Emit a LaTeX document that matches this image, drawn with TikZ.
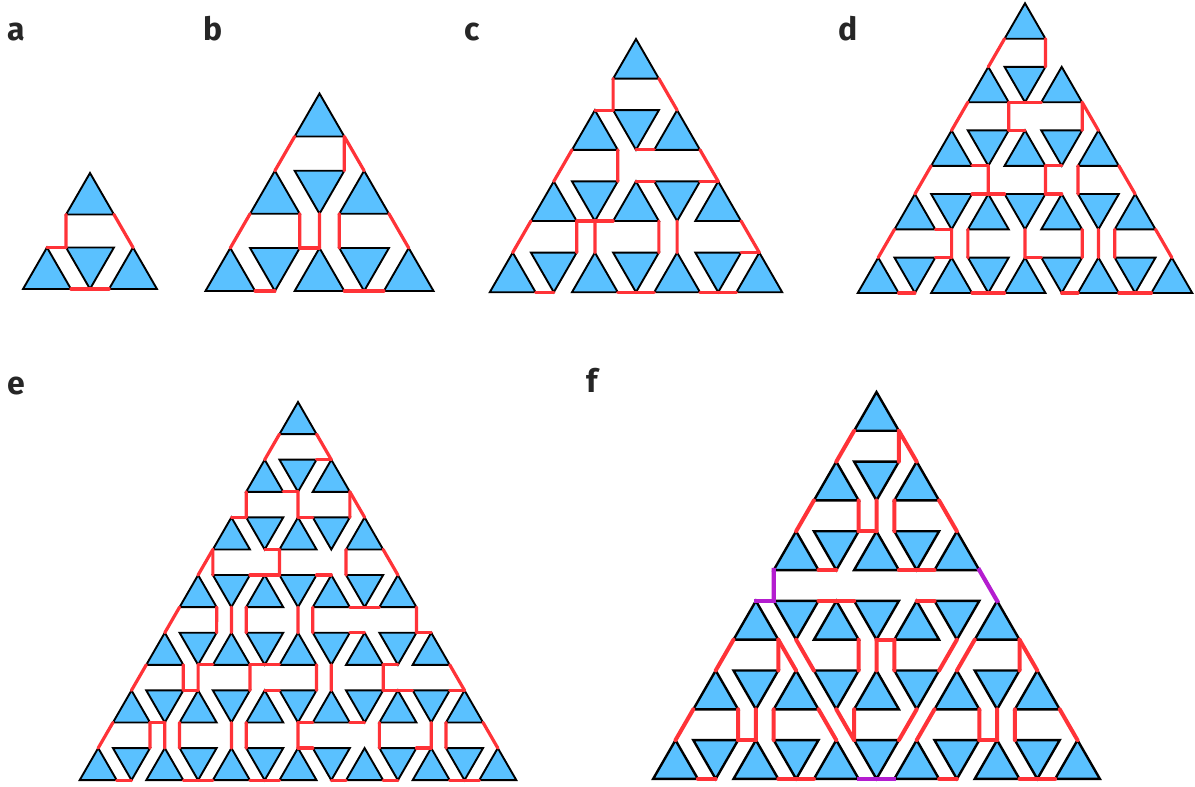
\documentclass[tikz,border=0pt]{standalone}
\usepackage{fontspec}
\setsansfont{Fira Sans}
\definecolor{triblue}{HTML}{5AC1FF}
\definecolor{linkred}{HTML}{FF3338}
\definecolor{linkpurple}{HTML}{B41DCF}
\tikzset{
  tri/.style={draw=black, fill=triblue, line width=1.9pt, line join=miter},
  link/.style={draw=linkred, line width=3.2pt, line cap=round},
  bridge/.style={draw=linkpurple, line width=4.2pt, line cap=rect},
  panellabel/.style={anchor=base west, inner sep=0pt, text=black!85, font=\sffamily\bfseries\fontsize{32}{32}\selectfont}
}
% grid of triangles: name, centre x, top y, spacing, last row
\newcommand{\trigrid}[5]{
  \foreach \row in {0,...,#5} {
    \pgfmathsetmacro{\ytop}{#3+\row*#4*1.732}
    \foreach \col in {0,...,\row} {
      \pgfmathsetmacro{\xup}{#2+(2*\col-\row)*#4}
      \pgfmathsetmacro{\xdn}{\xup+#4}
      \draw[tri] (\xup,\ytop) coordinate (#1-u\row-\col-t)
        -- ++(0.557*#4,0.965*#4) coordinate (#1-u\row-\col-r)
        -- ++(-1.114*#4,0) coordinate (#1-u\row-\col-l) -- cycle;
      \ifnum\col<\row
        \draw[tri] (\xdn,\ytop) ++(-0.557*#4,0) coordinate (#1-d\row-\col-l)
          -- ++(1.114*#4,0) coordinate (#1-d\row-\col-r)
          -- ++(-0.557*#4,0.965*#4) coordinate (#1-d\row-\col-b) -- cycle;
      \fi
    }
  }
}
\newcommand{\trilinks}[3]{
  \foreach \from/\to in {#3} \draw[#2] (#1-\from) -- (#1-\to);
}
\begin{document}
\begin{tikzpicture}[x=1pt, y=-1pt]
  \useasboundingbox (0,0) rectangle (1195,787);
  \node[panellabel] (lab-a) at (7,40) {a};
  \node[panellabel] (lab-b) at (203,40) {b};
  \node[panellabel] (lab-c) at (464,40) {c};
  \node[panellabel] (lab-d) at (838,40) {d};
  \node[panellabel] (lab-e) at (7,394) {e};
  \node[panellabel] (lab-f) at (586,392) {f};
  % a
  \trigrid{a}{90}{173}{43}{1}
  \trilinks{a}{link}{u0-0-l/d1-0-l, u1-0-t/d1-0-l, u0-0-r/u1-1-t, u1-0-r/d1-0-b, d1-0-b/u1-1-l}
  % b
  \trigrid{b}{319.5}{93.5}{44.6}{2}
  \trilinks{b}{link}{u0-0-l/u1-0-t, u0-0-r/u1-1-t, u0-0-r/d1-0-r, u1-0-l/u2-0-t, u1-0-r/d2-0-r,
    d2-0-r/u2-1-t, d1-0-b/u2-1-t, u1-1-l/d2-1-l, u1-1-r/u2-2-t, u2-0-r/d2-0-b, u2-1-r/d2-1-b,
    d2-1-b/u2-2-l}
  % c
  \trigrid{c}{636}{39}{41.1}{3}
  \trilinks{c}{link}{u0-0-l/d1-0-l, u1-0-t/d1-0-l, u0-0-r/u1-1-t, d1-0-b/u1-1-l, u1-0-l/u2-0-t,
    u1-0-r/d2-0-r, u2-1-t/d2-1-l, u1-1-r/u2-2-t, d2-1-r/u2-2-t, u2-0-l/u3-0-t, u2-0-r/d2-0-b,
    d2-0-b/u2-1-l, u2-0-r/d3-0-r, d2-0-b/u3-1-t, u2-1-r/d3-1-r, d2-1-b/u3-2-t, u2-2-r/u3-3-t,
    d3-2-r/u3-3-t, u3-0-r/d3-0-b, u3-1-r/d3-1-b, d3-1-b/u3-2-l, u3-2-r/d3-2-b, d3-2-b/u3-3-l}
  % d
  \trigrid{d}{1025}{3.3}{36.7}{4}
  \trilinks{d}{link}{u0-0-l/u1-0-t, u0-0-r/d1-0-r, u1-0-l/u2-0-t, u1-0-r/d2-0-r, u1-0-r/d1-0-b,
    d1-0-b/u1-1-l, d2-0-r/u2-1-t, u1-1-r/d2-1-r, u1-1-r/u2-2-t, u2-0-l/u3-0-t, u2-0-r/d2-0-b,
    d2-0-b/u3-1-t, d3-0-r/u3-1-t, u3-1-t/d3-1-l, u2-1-r/d2-1-b, u2-1-r/d3-1-r, d3-1-r/u3-2-t,
    u2-2-l/d3-2-l, u2-2-r/u3-3-t, u3-0-l/u4-0-t, u3-0-r/d3-0-b, d3-0-b/u4-1-t, d4-0-r/u4-1-t,
    u3-1-l/d4-1-l, d3-1-b/u4-2-t, u4-2-t/d4-2-l, u3-2-r/d4-2-r, d3-2-b/u4-3-t, u3-3-l/d4-3-l,
    u3-3-r/u4-4-t, u4-0-r/d4-0-b, u4-1-r/d4-1-b, d4-1-b/u4-2-l, d4-2-b/u4-3-l, u4-3-r/d4-3-b,
    d4-3-b/u4-4-l}
  % e
  \trigrid{e}{298}{402}{33.3}{6}
  \trilinks{e}{link}{u0-0-l/u1-0-t, u0-0-r/u1-1-t, d1-0-r/u1-1-t, u1-0-r/d1-0-b, d1-0-b/u2-1-t,
    u2-1-t/d2-1-l, u1-0-l/d2-0-l, u2-0-t/d2-0-l, u1-1-r/d2-1-r, u1-1-r/u2-2-t, u2-0-l/u3-0-t,
    u2-0-l/d3-0-l, d2-0-b/u2-1-l, u2-1-l/d3-1-l, d3-0-r/u3-1-t, u3-1-t/d3-1-l, d3-1-r/u3-2-t,
    u2-2-l/d3-2-l, u2-2-r/u3-3-t,
    u3-0-l/u4-0-t, u3-0-r/d4-0-r, d3-0-b/u4-1-t, u3-1-l/d4-1-l, d3-1-b/u4-2-t, u3-2-l/d4-2-l,
    u3-2-r/d3-2-b, d3-2-b/u3-3-l, u3-3-r/d4-3-r, d4-3-r/u4-4-t, d4-2-r/u4-3-t,
    u4-0-l/u5-0-t, u4-0-r/d5-0-r, d5-0-r/u5-1-t, d4-0-b/u5-1-t, d4-0-b/u4-1-l, u4-1-r/d4-1-b,
    d4-1-b/u4-2-l, u4-1-r/d5-1-r, u5-2-t/d5-2-l, u4-2-r/d5-2-r, d4-2-b/u5-3-t, u4-3-r/d4-3-b,
    u4-3-r/d5-3-r, d5-3-r/u5-4-t, u5-4-t/d5-4-l, u4-4-r/u5-5-t, d5-4-r/u5-5-t,
    u5-0-l/u6-0-t, u5-0-r/d5-0-b, u5-0-r/d6-0-r, d5-0-b/u6-1-t, u5-1-l/d6-1-l, d5-1-b/u6-2-t,
    u5-2-l/d6-2-l, d5-2-b/u5-3-l, d5-2-b/u6-3-t, u6-3-t/d6-3-l, u5-3-r/d5-3-b, u5-4-l/d6-4-l,
    d5-4-b/u6-5-t, d6-4-r/u6-5-t, u5-5-l/d6-5-l, u5-5-r/u6-6-t,
    u6-0-r/d6-0-b, u6-1-r/d6-1-b, d6-1-b/u6-2-l, u6-2-r/d6-2-b, d6-2-b/u6-3-l, d6-3-b/u6-4-l,
    u6-4-r/d6-4-b, u6-5-r/d6-5-b, d6-5-b/u6-6-l}
  % f
  \begin{scope}[tri/.append style={line width=2.4pt}, link/.append style={line width=4pt}]
    \trigrid{f}{876.5}{392}{40.2}{5}
    \trilinks{f}{link}{u0-0-l/u1-0-t, u0-0-r/u1-1-t, u0-0-r/d1-0-r, u1-0-l/u2-0-t, u1-0-r/d2-0-r,
      d2-0-r/u2-1-t, d1-0-b/u2-1-t, u1-1-l/d2-1-l, u1-1-r/u2-2-t, u2-0-r/d2-0-b, u2-1-r/d2-1-b,
      d2-1-b/u2-2-l,
      d3-0-r/u3-1-t, u3-1-t/d3-1-l, u3-2-t/d3-2-l,
      u3-0-l/u4-0-t, u3-0-r/d4-0-r, u3-0-r/u4-1-t, d3-0-b/d4-1-l, u3-1-r/d4-1-r, d3-1-b/u4-2-t,
      d3-1-b/u3-2-l, u3-2-l/d4-2-l, d3-2-b/d4-2-r, u3-3-l/u4-3-t, u3-3-r/d4-3-r, u3-3-r/u4-4-t,
      u4-0-l/u5-0-t, u4-0-r/d5-0-r, d5-0-r/u5-1-t, d4-0-b/u5-1-t, u4-1-l/d5-1-l, u4-1-r/u5-2-t,
      d4-1-b/d5-2-l, u4-2-l/d5-2-l, d4-2-b/d5-2-r, u4-3-l/u5-3-t, u4-3-r/d5-3-r, d5-3-r/u5-4-t,
      d4-3-b/u5-4-t, u4-4-l/d5-4-l, u4-4-r/u5-5-t,
      u5-0-r/d5-0-b, u5-1-r/d5-1-b, d5-1-b/u5-2-l, u5-3-r/d5-3-b, u5-4-r/d5-4-b, d5-4-b/u5-5-l}
    \trilinks{f}{bridge}{u2-0-l/d3-0-l, d3-0-l/u3-0-t, u2-2-r/u3-3-t, u5-2-r/d5-2-b, d5-2-b/u5-3-l}
  \end{scope}
\end{tikzpicture}
\end{document}
